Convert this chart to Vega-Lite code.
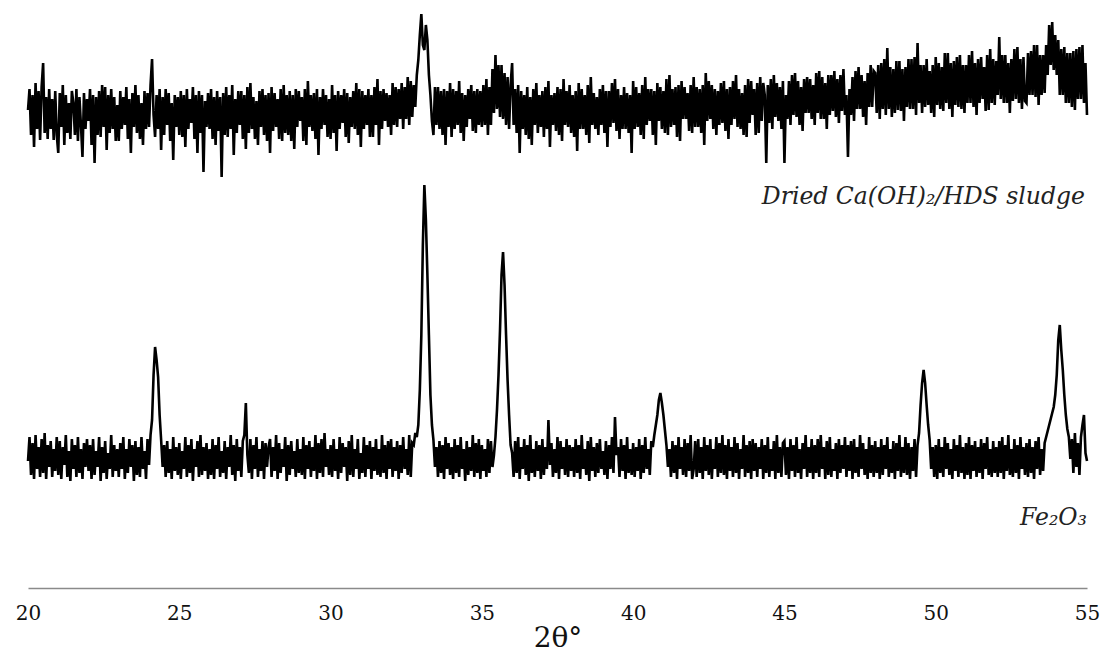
{
"$schema": "https://vega.github.io/schema/vega-lite/v6.json",
"width": 1059, "height": 588,
"autosize": {"type": "none"},
"padding": {"left": 28, "right": 22, "top": 0, "bottom": 64},
"background": "white",
"config": {"view": {"stroke": null}},
"datasets": {
"xrd": [
{"t":20,"s":455,"f":104},{"t":20.05,"s":476,"f":128},{"t":20.1,"s":430,"f":90},{"t":20.15,"s":470,"f":122},{"t":20.2,"s":418,"f":86},{"t":20.25,"s":482,"f":130},{"t":20.3,"s":436,"f":96},{"t":20.35,"s":474,"f":118},{"t":20.4,"s":425,"f":88},{"t":20.45,"s":478,"f":126},{"t":20.5,"s":502,"f":92},{"t":20.55,"s":432,"f":132},{"t":20.6,"s":468,"f":86},{"t":20.65,"s":426,"f":120},{"t":20.7,"s":476,"f":98},{"t":20.75,"s":436,"f":124},{"t":20.8,"s":466,"f":88},{"t":20.85,"s":425,"f":116},{"t":20.9,"s":474,"f":94},{"t":20.95,"s":430,"f":128},
{"t":21,"s":412,"f":90},{"t":21.05,"s":472,"f":124},{"t":21.1,"s":438,"f":86},{"t":21.15,"s":480,"f":118},{"t":21.2,"s":420,"f":100},{"t":21.25,"s":470,"f":130},{"t":21.3,"s":432,"f":88},{"t":21.35,"s":462,"f":114},{"t":21.4,"s":426,"f":84},{"t":21.45,"s":474,"f":126},{"t":21.5,"s":462,"f":96},{"t":21.55,"s":430,"f":120},{"t":21.6,"s":476,"f":88},{"t":21.65,"s":424,"f":128},{"t":21.7,"s":468,"f":92},{"t":21.75,"s":440,"f":116},{"t":21.8,"s":408,"f":86},{"t":21.85,"s":472,"f":122},{"t":21.9,"s":436,"f":98},{"t":21.95,"s":466,"f":126},
{"t":22,"s":444,"f":94},{"t":22.05,"s":476,"f":120},{"t":22.1,"s":420,"f":86},{"t":22.15,"s":470,"f":126},{"t":22.2,"s":402,"f":90},{"t":22.25,"s":468,"f":114},{"t":22.3,"s":430,"f":98},{"t":22.35,"s":474,"f":128},{"t":22.4,"s":428,"f":84},{"t":22.45,"s":480,"f":118},{"t":22.5,"s":438,"f":92},{"t":22.55,"s":478,"f":124},{"t":22.6,"s":415,"f":86},{"t":22.65,"s":470,"f":112},{"t":22.7,"s":432,"f":96},{"t":22.75,"s":476,"f":130},{"t":22.8,"s":436,"f":88},{"t":22.85,"s":468,"f":120},{"t":22.9,"s":424,"f":94},{"t":22.95,"s":460,"f":116},
{"t":23,"s":424,"f":88},{"t":23.05,"s":474,"f":122},{"t":23.1,"s":436,"f":96},{"t":23.15,"s":468,"f":128},{"t":23.2,"s":440,"f":86},{"t":23.25,"s":478,"f":116},{"t":23.3,"s":426,"f":92},{"t":23.35,"s":466,"f":126},{"t":23.4,"s":412,"f":98},{"t":23.45,"s":472,"f":120},{"t":23.5,"s":438,"f":84},{"t":23.55,"s":480,"f":124},{"t":23.6,"s":432,"f":90},{"t":23.65,"s":470,"f":118},{"t":23.7,"s":426,"f":88},{"t":23.75,"s":462,"f":128},{"t":23.8,"s":420,"f":96},{"t":23.85,"s":474,"f":114},{"t":23.9,"s":436,"f":86},{"t":23.95,"s":472,"f":126},
{"t":24,"s":438,"f":100},{"t":24.05,"s":480,"f":130},{"t":24.1,"s":506,"f":145},{"t":24.15,"s":450,"f":190},{"t":24.2,"s":428,"f":218},{"t":24.25,"s":470,"f":205},{"t":24.3,"s":436,"f":188},{"t":24.35,"s":476,"f":150},{"t":24.4,"s":415,"f":125},{"t":24.45,"s":468,"f":98},{"t":24.5,"s":430,"f":120},{"t":24.55,"s":476,"f":88},{"t":24.6,"s":440,"f":124},{"t":24.65,"s":472,"f":92},{"t":24.7,"s":424,"f":116},{"t":24.75,"s":462,"f":86},{"t":24.8,"s":405,"f":128},{"t":24.85,"s":470,"f":94},{"t":24.9,"s":438,"f":118},{"t":24.95,"s":468,"f":90},
{"t":25,"s":430,"f":122},{"t":25.05,"s":474,"f":86},{"t":25.1,"s":428,"f":114},{"t":25.15,"s":470,"f":96},{"t":25.2,"s":418,"f":128},{"t":25.25,"s":476,"f":88},{"t":25.3,"s":436,"f":120},{"t":25.35,"s":466,"f":92},{"t":25.4,"s":442,"f":126},{"t":25.45,"s":478,"f":84},{"t":25.5,"s":426,"f":116},{"t":25.55,"s":470,"f":98},{"t":25.6,"s":412,"f":124},{"t":25.65,"s":474,"f":88},{"t":25.7,"s":432,"f":130},{"t":25.75,"s":470,"f":90},{"t":25.8,"s":393,"f":118},{"t":25.85,"s":464,"f":94},{"t":25.9,"s":438,"f":122},{"t":25.95,"s":472,"f":86},
{"t":26,"s":436,"f":116},{"t":26.05,"s":476,"f":90},{"t":26.1,"s":426,"f":126},{"t":26.15,"s":468,"f":86},{"t":26.2,"s":420,"f":120},{"t":26.25,"s":474,"f":96},{"t":26.3,"s":434,"f":128},{"t":26.35,"s":468,"f":88},{"t":26.4,"s":388,"f":114},{"t":26.45,"s":472,"f":92},{"t":26.5,"s":430,"f":124},{"t":26.55,"s":478,"f":86},{"t":26.6,"s":428,"f":118},{"t":26.65,"s":470,"f":98},{"t":26.7,"s":436,"f":130},{"t":26.75,"s":480,"f":90},{"t":26.8,"s":410,"f":120},{"t":26.85,"s":466,"f":84},{"t":26.9,"s":432,"f":126},{"t":26.95,"s":474,"f":94},
{"t":27,"s":440,"f":118},{"t":27.05,"s":474,"f":88},{"t":27.1,"s":426,"f":124},{"t":27.15,"s":470,"f":130},{"t":27.2,"s":416,"f":162},{"t":27.25,"s":478,"f":110},{"t":27.3,"s":432,"f":92},{"t":27.35,"s":482,"f":126},{"t":27.4,"s":436,"f":86},{"t":27.45,"s":468,"f":120},{"t":27.5,"s":426,"f":96},{"t":27.55,"s":464,"f":128},{"t":27.6,"s":420,"f":88},{"t":27.65,"s":474,"f":116},{"t":27.7,"s":438,"f":94},{"t":27.75,"s":476,"f":124},{"t":27.8,"s":430,"f":86},{"t":27.85,"s":470,"f":122},{"t":27.9,"s":424,"f":98},{"t":27.95,"s":472,"f":118},
{"t":28,"s":412,"f":126},{"t":28.05,"s":478,"f":88},{"t":28.1,"s":434,"f":118},{"t":28.15,"s":472,"f":94},{"t":28.2,"s":438,"f":130},{"t":28.25,"s":466,"f":86},{"t":28.3,"s":426,"f":122},{"t":28.35,"s":476,"f":92},{"t":28.4,"s":424,"f":116},{"t":28.45,"s":480,"f":98},{"t":28.5,"s":432,"f":128},{"t":28.55,"s":470,"f":84},{"t":28.6,"s":430,"f":120},{"t":28.65,"s":474,"f":90},{"t":28.7,"s":424,"f":124},{"t":28.75,"s":470,"f":96},{"t":28.8,"s":416,"f":114},{"t":28.85,"s":476,"f":88},{"t":28.9,"s":438,"f":126},{"t":28.95,"s":474,"f":92},
{"t":29,"s":444,"f":116},{"t":29.05,"s":468,"f":90},{"t":29.1,"s":424,"f":128},{"t":29.15,"s":476,"f":86},{"t":29.2,"s":420,"f":120},{"t":29.25,"s":484,"f":96},{"t":29.3,"s":438,"f":124},{"t":29.35,"s":470,"f":88},{"t":29.4,"s":434,"f":118},{"t":29.45,"s":472,"f":94},{"t":29.5,"s":426,"f":130},{"t":29.55,"s":476,"f":86},{"t":29.6,"s":410,"f":122},{"t":29.65,"s":468,"f":92},{"t":29.7,"s":436,"f":126},{"t":29.75,"s":476,"f":88},{"t":29.8,"s":440,"f":132},{"t":29.85,"s":470,"f":98},{"t":29.9,"s":428,"f":116},{"t":29.95,"s":466,"f":90},
{"t":30,"s":426,"f":120},{"t":30.05,"s":480,"f":88},{"t":30.1,"s":432,"f":126},{"t":30.15,"s":470,"f":94},{"t":30.2,"s":414,"f":116},{"t":30.25,"s":474,"f":86},{"t":30.3,"s":436,"f":128},{"t":30.35,"s":470,"f":92},{"t":30.4,"s":442,"f":122},{"t":30.45,"s":476,"f":98},{"t":30.5,"s":428,"f":118},{"t":30.55,"s":472,"f":84},{"t":30.6,"s":422,"f":124},{"t":30.65,"s":468,"f":90},{"t":30.7,"s":438,"f":130},{"t":30.75,"s":474,"f":88},{"t":30.8,"s":436,"f":116},{"t":30.85,"s":482,"f":96},{"t":30.9,"s":430,"f":126},{"t":30.95,"s":476,"f":86},
{"t":31,"s":418,"f":112},{"t":31.05,"s":474,"f":92},{"t":31.1,"s":436,"f":128},{"t":31.15,"s":470,"f":88},{"t":31.2,"s":440,"f":120},{"t":31.25,"s":476,"f":96},{"t":31.3,"s":428,"f":124},{"t":31.35,"s":470,"f":86},{"t":31.4,"s":428,"f":118},{"t":31.45,"s":478,"f":94},{"t":31.5,"s":440,"f":126},{"t":31.55,"s":486,"f":90},{"t":31.6,"s":420,"f":116},{"t":31.65,"s":474,"f":88},{"t":31.7,"s":436,"f":130},{"t":31.75,"s":476,"f":92},{"t":31.8,"s":444,"f":120},{"t":31.85,"s":472,"f":86},{"t":31.9,"s":438,"f":124},{"t":31.95,"s":470,"f":96},
{"t":32,"s":430,"f":126},{"t":32.05,"s":482,"f":88},{"t":32.1,"s":440,"f":118},{"t":32.15,"s":478,"f":94},{"t":32.2,"s":438,"f":124},{"t":32.25,"s":476,"f":86},{"t":32.3,"s":446,"f":120},{"t":32.35,"s":482,"f":92},{"t":32.4,"s":436,"f":128},{"t":32.45,"s":478,"f":96},{"t":32.5,"s":446,"f":116},{"t":32.55,"s":488,"f":90},{"t":32.6,"s":440,"f":130},{"t":32.65,"s":484,"f":88},{"t":32.7,"s":448,"f":122},{"t":32.75,"s":480,"f":120},{"t":32.8,"s":458,"f":132},{"t":32.85,"s":490,"f":128},{"t":32.9,"s":505,"f":140},{"t":32.95,"s":530,"f":175},
{"t":33,"s":551,"f":230},{"t":33.05,"s":520,"f":320},{"t":33.1,"s":515,"f":380},{"t":33.15,"s":540,"f":345},{"t":33.2,"s":525,"f":290},{"t":33.25,"s":490,"f":230},{"t":33.3,"s":470,"f":170},{"t":33.35,"s":444,"f":140},{"t":33.4,"s":430,"f":125},{"t":33.45,"s":478,"f":98},{"t":33.5,"s":440,"f":118},{"t":33.55,"s":478,"f":88},{"t":33.6,"s":436,"f":124},{"t":33.65,"s":474,"f":92},{"t":33.7,"s":430,"f":120},{"t":33.75,"s":476,"f":86},{"t":33.8,"s":420,"f":128},{"t":33.85,"s":474,"f":96},{"t":33.9,"s":438,"f":122},{"t":33.95,"s":482,"f":90},
{"t":34,"s":428,"f":118},{"t":34.05,"s":476,"f":86},{"t":34.1,"s":436,"f":126},{"t":34.15,"s":474,"f":92},{"t":34.2,"s":440,"f":120},{"t":34.25,"s":484,"f":88},{"t":34.3,"s":432,"f":128},{"t":34.35,"s":472,"f":96},{"t":34.4,"s":424,"f":116},{"t":34.45,"s":470,"f":84},{"t":34.5,"s":438,"f":124},{"t":34.55,"s":476,"f":90},{"t":34.6,"s":446,"f":118},{"t":34.65,"s":480,"f":94},{"t":34.7,"s":434,"f":130},{"t":34.75,"s":474,"f":88},{"t":34.8,"s":432,"f":122},{"t":34.85,"s":476,"f":92},{"t":34.9,"s":440,"f":126},{"t":34.95,"s":474,"f":86},
{"t":35,"s":438,"f":120},{"t":35.05,"s":480,"f":94},{"t":35.1,"s":440,"f":116},{"t":35.15,"s":486,"f":88},{"t":35.2,"s":430,"f":126},{"t":35.25,"s":478,"f":92},{"t":35.3,"s":440,"f":124},{"t":35.35,"s":496,"f":98},{"t":35.4,"s":452,"f":110},{"t":35.45,"s":510,"f":128},{"t":35.5,"s":456,"f":155},{"t":35.55,"s":500,"f":190},{"t":35.6,"s":448,"f":235},{"t":35.65,"s":500,"f":290},{"t":35.7,"s":446,"f":313},{"t":35.75,"s":492,"f":280},{"t":35.8,"s":440,"f":230},{"t":35.85,"s":488,"f":185},{"t":35.9,"s":436,"f":150},{"t":35.95,"s":480,"f":120},
{"t":36,"s":502,"f":112},{"t":36.05,"s":440,"f":88},{"t":36.1,"s":476,"f":124},{"t":36.15,"s":432,"f":92},{"t":36.2,"s":480,"f":128},{"t":36.25,"s":412,"f":86},{"t":36.3,"s":474,"f":118},{"t":36.35,"s":436,"f":96},{"t":36.4,"s":470,"f":126},{"t":36.45,"s":430,"f":90},{"t":36.5,"s":478,"f":120},{"t":36.55,"s":426,"f":84},{"t":36.6,"s":468,"f":130},{"t":36.65,"s":420,"f":92},{"t":36.7,"s":476,"f":116},{"t":36.75,"s":440,"f":88},{"t":36.8,"s":482,"f":124},{"t":36.85,"s":432,"f":94},{"t":36.9,"s":470,"f":120},{"t":36.95,"s":438,"f":86},
{"t":37,"s":474,"f":126},{"t":37.05,"s":428,"f":90},{"t":37.1,"s":478,"f":118},{"t":37.15,"s":436,"f":96},{"t":37.2,"s":484,"f":145},{"t":37.25,"s":418,"f":100},{"t":37.3,"s":470,"f":122},{"t":37.35,"s":440,"f":88},{"t":37.4,"s":472,"f":116},{"t":37.45,"s":434,"f":92},{"t":37.5,"s":478,"f":128},{"t":37.55,"s":430,"f":86},{"t":37.6,"s":476,"f":124},{"t":37.65,"s":424,"f":96},{"t":37.7,"s":486,"f":118},{"t":37.75,"s":440,"f":90},{"t":37.8,"s":474,"f":126},{"t":37.85,"s":438,"f":88},{"t":37.9,"s":480,"f":120},{"t":37.95,"s":432,"f":94},
{"t":38,"s":470,"f":118},{"t":38.05,"s":428,"f":88},{"t":38.1,"s":474,"f":126},{"t":38.15,"s":414,"f":92},{"t":38.2,"s":482,"f":120},{"t":38.25,"s":436,"f":86},{"t":38.3,"s":476,"f":130},{"t":38.35,"s":436,"f":96},{"t":38.4,"s":470,"f":116},{"t":38.45,"s":430,"f":90},{"t":38.5,"s":480,"f":124},{"t":38.55,"s":422,"f":84},{"t":38.6,"s":488,"f":128},{"t":38.65,"s":440,"f":94},{"t":38.7,"s":472,"f":118},{"t":38.75,"s":436,"f":88},{"t":38.8,"s":468,"f":122},{"t":38.85,"s":430,"f":92},{"t":38.9,"s":476,"f":126},{"t":38.95,"s":440,"f":96},
{"t":39,"s":480,"f":114},{"t":39.05,"s":432,"f":90},{"t":39.1,"s":474,"f":124},{"t":39.15,"s":418,"f":86},{"t":39.2,"s":474,"f":120},{"t":39.25,"s":438,"f":96},{"t":39.3,"s":482,"f":128},{"t":39.35,"s":442,"f":92},{"t":39.4,"s":486,"f":148},{"t":39.45,"s":434,"f":110},{"t":39.5,"s":476,"f":118},{"t":39.55,"s":426,"f":88},{"t":39.6,"s":470,"f":126},{"t":39.65,"s":436,"f":94},{"t":39.7,"s":478,"f":120},{"t":39.75,"s":436,"f":86},{"t":39.8,"s":472,"f":128},{"t":39.85,"s":432,"f":92},{"t":39.9,"s":470,"f":116},{"t":39.95,"s":412,"f":90},
{"t":40,"s":484,"f":122},{"t":40.05,"s":436,"f":88},{"t":40.1,"s":478,"f":118},{"t":40.15,"s":438,"f":94},{"t":40.2,"s":472,"f":126},{"t":40.25,"s":430,"f":86},{"t":40.3,"s":480,"f":120},{"t":40.35,"s":426,"f":92},{"t":40.4,"s":488,"f":128},{"t":40.45,"s":440,"f":96},{"t":40.5,"s":476,"f":116},{"t":40.55,"s":444,"f":90},{"t":40.6,"s":476,"f":124},{"t":40.65,"s":430,"f":118},{"t":40.7,"s":474,"f":130},{"t":40.75,"s":420,"f":140},{"t":40.8,"s":482,"f":150},{"t":40.85,"s":444,"f":165},{"t":40.9,"s":478,"f":172},{"t":40.95,"s":436,"f":162},
{"t":41,"s":474,"f":150},{"t":41.05,"s":432,"f":135},{"t":41.1,"s":486,"f":120},{"t":41.15,"s":430,"f":98},{"t":41.2,"s":490,"f":116},{"t":41.25,"s":438,"f":88},{"t":41.3,"s":476,"f":124},{"t":41.35,"s":440,"f":92},{"t":41.4,"s":478,"f":120},{"t":41.45,"s":428,"f":86},{"t":41.5,"s":480,"f":128},{"t":41.55,"s":424,"f":96},{"t":41.6,"s":484,"f":118},{"t":41.65,"s":446,"f":90},{"t":41.7,"s":478,"f":126},{"t":41.75,"s":446,"f":88},{"t":41.8,"s":472,"f":122},{"t":41.85,"s":434,"f":94},{"t":41.9,"s":480,"f":130},{"t":41.95,"s":432,"f":86},
{"t":42,"s":488,"f":96},{"t":42.05,"s":438,"f":124},{"t":42.1,"s":478,"f":88},{"t":42.15,"s":438,"f":126},{"t":42.2,"s":476,"f":92},{"t":42.25,"s":432,"f":118},{"t":42.3,"s":480,"f":86},{"t":42.35,"s":420,"f":128},{"t":42.4,"s":492,"f":94},{"t":42.45,"s":444,"f":120},{"t":42.5,"s":484,"f":90},{"t":42.55,"s":446,"f":126},{"t":42.6,"s":480,"f":86},{"t":42.65,"s":436,"f":116},{"t":42.7,"s":476,"f":96},{"t":42.75,"s":430,"f":128},{"t":42.8,"s":474,"f":88},{"t":42.85,"s":440,"f":122},{"t":42.9,"s":482,"f":92},{"t":42.95,"s":442,"f":130},
{"t":43,"s":484,"f":90},{"t":43.05,"s":434,"f":120},{"t":43.1,"s":476,"f":86},{"t":43.15,"s":426,"f":126},{"t":43.2,"s":478,"f":94},{"t":43.25,"s":440,"f":118},{"t":43.3,"s":484,"f":88},{"t":43.35,"s":446,"f":128},{"t":43.4,"s":490,"f":92},{"t":43.45,"s":438,"f":122},{"t":43.5,"s":476,"f":86},{"t":43.55,"s":436,"f":116},{"t":43.6,"s":472,"f":96},{"t":43.65,"s":430,"f":130},{"t":43.7,"s":480,"f":88},{"t":43.75,"s":428,"f":120},{"t":43.8,"s":486,"f":92},{"t":43.85,"s":442,"f":124},{"t":43.9,"s":484,"f":86},{"t":43.95,"s":450,"f":126},
{"t":44,"s":476,"f":94},{"t":44.05,"s":430,"f":122},{"t":44.1,"s":482,"f":88},{"t":44.15,"s":432,"f":118},{"t":44.2,"s":488,"f":96},{"t":44.25,"s":444,"f":126},{"t":44.3,"s":482,"f":86},{"t":44.35,"s":470,"f":120},{"t":44.4,"s":402,"f":92},{"t":44.45,"s":480,"f":128},{"t":44.5,"s":442,"f":88},{"t":44.55,"s":486,"f":116},{"t":44.6,"s":436,"f":94},{"t":44.65,"s":490,"f":124},{"t":44.7,"s":448,"f":86},{"t":44.75,"s":482,"f":130},{"t":44.8,"s":444,"f":92},{"t":44.85,"s":478,"f":118},{"t":44.9,"s":436,"f":88},{"t":44.95,"s":484,"f":122},
{"t":45,"s":402,"f":124},{"t":45.05,"s":470,"f":90},{"t":45.1,"s":446,"f":118},{"t":45.15,"s":484,"f":86},{"t":45.2,"s":440,"f":126},{"t":45.25,"s":490,"f":94},{"t":45.3,"s":450,"f":120},{"t":45.35,"s":492,"f":88},{"t":45.4,"s":448,"f":128},{"t":45.45,"s":484,"f":92},{"t":45.5,"s":440,"f":116},{"t":45.55,"s":478,"f":86},{"t":45.6,"s":434,"f":122},{"t":45.65,"s":486,"f":96},{"t":45.7,"s":452,"f":130},{"t":45.75,"s":488,"f":88},{"t":45.8,"s":452,"f":118},{"t":45.85,"s":486,"f":92},{"t":45.9,"s":446,"f":126},{"t":45.95,"s":480,"f":86},
{"t":46,"s":440,"f":120},{"t":46.05,"s":492,"f":92},{"t":46.1,"s":452,"f":126},{"t":46.15,"s":494,"f":88},{"t":46.2,"s":446,"f":130},{"t":46.25,"s":488,"f":96},{"t":46.3,"s":446,"f":118},{"t":46.35,"s":482,"f":86},{"t":46.4,"s":436,"f":124},{"t":46.45,"s":490,"f":90},{"t":46.5,"s":450,"f":128},{"t":46.55,"s":490,"f":88},{"t":46.6,"s":454,"f":116},{"t":46.65,"s":494,"f":94},{"t":46.7,"s":448,"f":122},{"t":46.75,"s":486,"f":86},{"t":46.8,"s":442,"f":126},{"t":46.85,"s":490,"f":92},{"t":46.9,"s":454,"f":120},{"t":46.95,"s":496,"f":96},
{"t":47,"s":450,"f":128},{"t":47.05,"s":470,"f":88},{"t":47.1,"s":408,"f":120},{"t":47.15,"s":476,"f":94},{"t":47.2,"s":450,"f":124},{"t":47.25,"s":488,"f":86},{"t":47.3,"s":444,"f":126},{"t":47.35,"s":494,"f":92},{"t":47.4,"s":456,"f":118},{"t":47.45,"s":498,"f":88},{"t":47.5,"s":456,"f":130},{"t":47.55,"s":490,"f":96},{"t":47.6,"s":448,"f":122},{"t":47.65,"s":484,"f":90},{"t":47.7,"s":440,"f":116},{"t":47.75,"s":492,"f":86},{"t":47.8,"s":458,"f":128},{"t":47.85,"s":500,"f":92},{"t":47.9,"s":458,"f":120},{"t":47.95,"s":494,"f":88},
{"t":48,"s":492,"f":124},{"t":48.05,"s":452,"f":92},{"t":48.1,"s":500,"f":118},{"t":48.15,"s":446,"f":86},{"t":48.2,"s":502,"f":126},{"t":48.25,"s":456,"f":90},{"t":48.3,"s":506,"f":120},{"t":48.35,"s":450,"f":96},{"t":48.4,"s":517,"f":128},{"t":48.45,"s":456,"f":88},{"t":48.5,"s":498,"f":116},{"t":48.55,"s":448,"f":92},{"t":48.6,"s":496,"f":124},{"t":48.65,"s":452,"f":86},{"t":48.7,"s":504,"f":122},{"t":48.75,"s":455,"f":94},{"t":48.8,"s":504,"f":130},{"t":48.85,"s":454,"f":88},{"t":48.9,"s":496,"f":118},{"t":48.95,"s":444,"f":92},
{"t":49,"s":498,"f":128},{"t":49.05,"s":458,"f":90},{"t":49.1,"s":506,"f":122},{"t":49.15,"s":456,"f":86},{"t":49.2,"s":506,"f":118},{"t":49.25,"s":456,"f":94},{"t":49.3,"s":508,"f":126},{"t":49.35,"s":450,"f":88},{"t":49.4,"s":522,"f":120},{"t":49.45,"s":462,"f":132},{"t":49.5,"s":500,"f":160},{"t":49.55,"s":452,"f":182},{"t":49.6,"s":500,"f":195},{"t":49.65,"s":458,"f":182},{"t":49.7,"s":506,"f":160},{"t":49.75,"s":460,"f":140},{"t":49.8,"s":494,"f":125},{"t":49.85,"s":452,"f":96},{"t":49.9,"s":500,"f":118},{"t":49.95,"s":448,"f":88},
{"t":50,"s":508,"f":120},{"t":50.05,"s":460,"f":86},{"t":50.1,"s":502,"f":126},{"t":50.15,"s":456,"f":92},{"t":50.2,"s":498,"f":118},{"t":50.25,"s":454,"f":88},{"t":50.3,"s":512,"f":128},{"t":50.35,"s":462,"f":96},{"t":50.4,"s":512,"f":122},{"t":50.45,"s":456,"f":90},{"t":50.5,"s":502,"f":116},{"t":50.55,"s":448,"f":86},{"t":50.6,"s":504,"f":126},{"t":50.65,"s":460,"f":94},{"t":50.7,"s":508,"f":120},{"t":50.75,"s":458,"f":88},{"t":50.8,"s":510,"f":130},{"t":50.85,"s":456,"f":92},{"t":50.9,"s":500,"f":118},{"t":50.95,"s":452,"f":86},
{"t":51,"s":500,"f":122},{"t":51.05,"s":462,"f":90},{"t":51.1,"s":510,"f":128},{"t":51.15,"s":462,"f":86},{"t":51.2,"s":514,"f":120},{"t":51.25,"s":458,"f":94},{"t":51.3,"s":502,"f":124},{"t":51.35,"s":450,"f":88},{"t":51.4,"s":506,"f":118},{"t":51.45,"s":462,"f":92},{"t":51.5,"s":508,"f":126},{"t":51.55,"s":466,"f":86},{"t":51.6,"s":498,"f":122},{"t":51.65,"s":454,"f":96},{"t":51.7,"s":510,"f":128},{"t":51.75,"s":455,"f":90},{"t":51.8,"s":516,"f":116},{"t":51.85,"s":462,"f":88},{"t":51.9,"s":506,"f":124},{"t":51.95,"s":460,"f":92},
{"t":52,"s":504,"f":118},{"t":52.05,"s":470,"f":88},{"t":52.1,"s":528,"f":124},{"t":52.15,"s":466,"f":92},{"t":52.2,"s":510,"f":128},{"t":52.25,"s":462,"f":86},{"t":52.3,"s":510,"f":120},{"t":52.35,"s":462,"f":94},{"t":52.4,"s":502,"f":130},{"t":52.45,"s":452,"f":90},{"t":52.5,"s":506,"f":116},{"t":52.55,"s":464,"f":88},{"t":52.6,"s":516,"f":126},{"t":52.65,"s":466,"f":92},{"t":52.7,"s":518,"f":120},{"t":52.75,"s":462,"f":86},{"t":52.8,"s":506,"f":128},{"t":52.85,"s":456,"f":96},{"t":52.9,"s":508,"f":118},{"t":52.95,"s":464,"f":90},
{"t":53,"s":462,"f":122},{"t":53.05,"s":512,"f":88},{"t":53.1,"s":470,"f":126},{"t":53.15,"s":514,"f":92},{"t":53.2,"s":470,"f":118},{"t":53.25,"s":520,"f":86},{"t":53.3,"s":468,"f":124},{"t":53.35,"s":520,"f":96},{"t":53.4,"s":460,"f":128},{"t":53.45,"s":510,"f":90},{"t":53.5,"s":470,"f":116},{"t":53.55,"s":510,"f":94},{"t":53.6,"s":472,"f":122},{"t":53.65,"s":520,"f":128},{"t":53.7,"s":490,"f":134},{"t":53.75,"s":540,"f":140},{"t":53.8,"s":500,"f":146},{"t":53.85,"s":543,"f":152},{"t":53.9,"s":495,"f":158},{"t":53.95,"s":530,"f":170},
{"t":54,"s":490,"f":190},{"t":54.05,"s":525,"f":225},{"t":54.1,"s":470,"f":240},{"t":54.15,"s":516,"f":215},{"t":54.2,"s":470,"f":195},{"t":54.25,"s":518,"f":170},{"t":54.3,"s":462,"f":150},{"t":54.35,"s":512,"f":136},{"t":54.4,"s":462,"f":128},{"t":54.45,"s":512,"f":106},{"t":54.5,"s":458,"f":126},{"t":54.55,"s":514,"f":92},{"t":54.6,"s":455,"f":132},{"t":54.65,"s":516,"f":98},{"t":54.7,"s":466,"f":122},{"t":54.75,"s":518,"f":90},{"t":54.8,"s":466,"f":128},{"t":54.85,"s":520,"f":140},{"t":54.9,"s":462,"f":150},{"t":54.95,"s":502,"f":112},
{"t":55,"s":450,"f":104}
],
"labels": [
{"t":54.93,"v":368,"label":"Dried Ca(OH)₂/HDS sludge"},
{"t":55.0,"v":47,"label":"Fe₂O₃"}
]
},
"encoding": {
"x": {"field": "t", "type": "quantitative",
 "scale": {"domain": [20, 55], "nice": false, "zero": false},
 "axis": {"title": "2θ°", "values": [20,25,30,35,40,45,50,55], "ticks": false, "grid": false,
  "domainColor": "#8a8a8a", "domainWidth": 1.5,
  "labelFont": "DejaVu Serif", "labelFontSize": 20, "labelColor": "#111", "labelPadding": 15,
  "labelFlush": false, "labelOverlap": false,
  "titleFont": "DejaVu Serif", "titleFontSize": 28, "titleFontWeight": "normal", "titleColor": "#111", "titlePadding": 1}}
},
"layer": [
 {"data": {"name": "xrd"}, "mark": {"type": "line", "color": "black", "strokeWidth": 2.6},
  "encoding": {"y": {"field": "s", "type": "quantitative", "scale": {"domain": [-23, 565]}, "axis": null}}},
 {"data": {"name": "xrd"}, "mark": {"type": "line", "color": "black", "strokeWidth": 2.6},
  "encoding": {"y": {"field": "f", "type": "quantitative", "scale": {"domain": [-23, 565]}, "axis": null}}},
 {"data": {"name": "labels"}, "mark": {"type": "text", "align": "right", "baseline": "middle", "fontStyle": "italic", "fontSize": 23.5, "font": "DejaVu Serif", "color": "#222"},
  "encoding": {"y": {"field": "v", "type": "quantitative", "scale": {"domain": [-23, 565]}, "axis": null}, "text": {"field": "label"}}}
]
}
